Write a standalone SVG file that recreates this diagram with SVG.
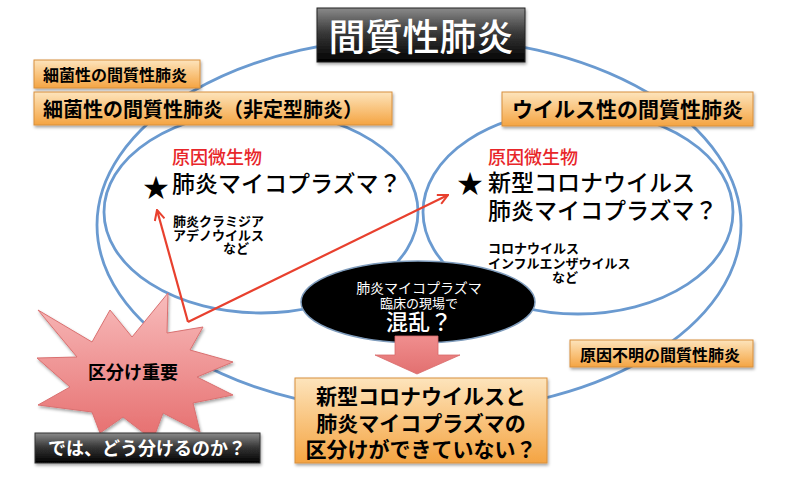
<svg xmlns="http://www.w3.org/2000/svg" width="800" height="480" viewBox="0 0 800 480">
<style>
text{font-family:'Noto Sans CJK JP','Noto Sans CJK SC',sans-serif;}
.b{font-weight:bold;}
.m{font-weight:500;}
.ring{fill:none;stroke:#6a9ad0;stroke-width:2.8;}
.orange{fill:url(#og);stroke:#d8903c;stroke-width:1;filter:url(#sh);}
.red{stroke:#e8402e;stroke-width:2.2;fill:none;marker-end:url(#ah);}
.blk{fill:#000;}
.wht{fill:#fff;}
.rd{fill:#e8262a;}
</style>
<defs>
<linearGradient id="og" x1="0" y1="0" x2="0" y2="1">
<stop offset="0" stop-color="#fde4bc"/>
<stop offset="0.5" stop-color="#f9c47e"/>
<stop offset="1" stop-color="#f4a443"/>
</linearGradient>
<linearGradient id="dg" x1="0" y1="0" x2="0" y2="1">
<stop offset="0" stop-color="#8a8a8a"/>
<stop offset="0.45" stop-color="#3a3a3a"/>
<stop offset="1" stop-color="#000"/>
</linearGradient>
<linearGradient id="pg" x1="0" y1="0" x2="0" y2="1">
<stop offset="0" stop-color="#f8bcbc"/>
<stop offset="1" stop-color="#e66e6e"/>
</linearGradient>
<linearGradient id="ag" x1="0" y1="0" x2="0" y2="1">
<stop offset="0" stop-color="#f08e8e"/>
<stop offset="1" stop-color="#e27070"/>
</linearGradient>
<filter id="sh" x="-10%" y="-20%" width="130%" height="150%">
<feDropShadow dx="1" dy="2" stdDeviation="1.5" flood-color="#000" flood-opacity="0.35"/>
</filter>
<marker id="ah" viewBox="0 0 12 12" refX="11" refY="6" markerWidth="12" markerHeight="12" markerUnits="userSpaceOnUse" orient="auto">
<path d="M1,1 L11,6 L1,11" fill="none" stroke="#e8402e" stroke-width="2"/>
</marker>
</defs>
<rect width="800" height="480" fill="#fff"/>

<g id="outer-ellipse">
<ellipse class="ring" cx="419" cy="225" rx="322" ry="188"/>
</g>
<g id="bacterial-ellipse">
<ellipse class="ring" cx="261" cy="212" rx="157" ry="101"/>
<text x="172" y="164" font-size="18" class="rd m">原因微生物</text>
<text x="156" y="197" font-size="26" text-anchor="middle" class="blk">★</text>
<text x="172" y="192" font-size="23" class="blk m">肺炎マイコプラズマ？</text>
<text x="173" y="226" font-size="13" class="blk b">肺炎クラミジア</text>
<text x="173" y="240" font-size="13" class="blk b">アデノウイルス</text>
<text x="223" y="253" font-size="13" class="blk b">など</text>
</g>
<g id="viral-ellipse">
<ellipse class="ring" cx="578" cy="212" rx="155" ry="102"/>
<text x="488" y="164" font-size="18" class="rd m">原因微生物</text>
<text x="470" y="193" font-size="26" text-anchor="middle" class="blk">★</text>
<text x="488" y="191" font-size="23" class="blk m">新型コロナウイルス</text>
<text x="488" y="219" font-size="23" class="blk m">肺炎マイコプラズマ？</text>
<text x="488" y="253" font-size="13" class="blk b">コロナウイルス</text>
<text x="488" y="268" font-size="13" class="blk b">インフルエンザウイルス</text>
<text x="552" y="282" font-size="13" class="blk b">など</text>
</g>

<g id="connectors">
<line class="red" x1="188" y1="322" x2="157" y2="210"/>
<line class="red" x1="188" y1="322" x2="448" y2="195"/>
</g>

<g id="confusion">
<ellipse cx="418" cy="302" rx="117" ry="41" fill="#000" stroke="#7f9cbc" stroke-width="1.5"/>
<text x="419" y="293" font-size="14" text-anchor="middle" class="wht">肺炎マイコプラズマ</text>
<text x="419" y="308" font-size="13" text-anchor="middle" class="wht">臨床の現場で</text>
<text x="419" y="330" font-size="22" text-anchor="middle" class="wht m">混乱？</text>
</g>

<g id="down-arrow">
<path d="M395,336 H438 V355 H460 L417,374 L375,355 H395 Z" fill="url(#ag)" stroke="#d86a6a" stroke-width="0.8"/>
</g>

<g id="title">
<rect x="317" y="8" width="208" height="54" fill="url(#dg)" stroke="#222" stroke-width="1" filter="url(#sh)"/>
<text x="421" y="51" font-size="37" text-anchor="middle" class="wht m">間質性肺炎</text>
</g>
<g id="label-bacterial">
<rect class="orange" x="34" y="60" width="166" height="28"/>
<text x="43" y="81" font-size="16" class="blk b">細菌性の間質性肺炎</text>
</g>
<g id="label-atypical">
<rect class="orange" x="34" y="92" width="358" height="33"/>
<text x="43" y="117" font-size="20" class="blk b">細菌性の間質性肺炎（非定型肺炎）</text>
</g>
<g id="label-viral">
<rect class="orange" x="502" y="92" width="251" height="34"/>
<text x="512" y="117" font-size="21" class="blk b">ウイルス性の間質性肺炎</text>
</g>
<g id="label-unknown">
<rect class="orange" x="570" y="340" width="183" height="27"/>
<text x="580" y="361" font-size="16" class="blk b">原因不明の間質性肺炎</text>
</g>
<g id="conclusion">
<rect class="orange" x="295" y="378" width="252" height="85"/>
<text x="421" y="404" font-size="21" text-anchor="middle" class="blk b">新型コロナウイルスと</text>
<text x="421" y="431" font-size="21" text-anchor="middle" class="blk b">肺炎マイコプラズマの</text>
<text x="421" y="457" font-size="21" text-anchor="middle" class="blk b">区分けができていない？</text>
</g>

<g id="important">
<polygon points="38,310 92,342 110,310 132,337 168,293 167,333 203,327 190,350 233,362 197,377 233,395 193,403 200,432 163,413 153,440 123,417 100,433 92,412 38,405 70,387 37,358 77,357" fill="url(#pg)" stroke="#d97070" stroke-width="1" filter="url(#sh)"/>
<text x="133" y="379" font-size="18" text-anchor="middle" class="blk b">区分け重要</text>
</g>
<g id="question">
<rect x="35" y="433" width="225" height="30" fill="url(#dg)" stroke="#333" stroke-width="1" filter="url(#sh)"/>
<text x="147" y="455" font-size="18" text-anchor="middle" class="wht b">では、どう分けるのか？</text>
</g>
</svg>
